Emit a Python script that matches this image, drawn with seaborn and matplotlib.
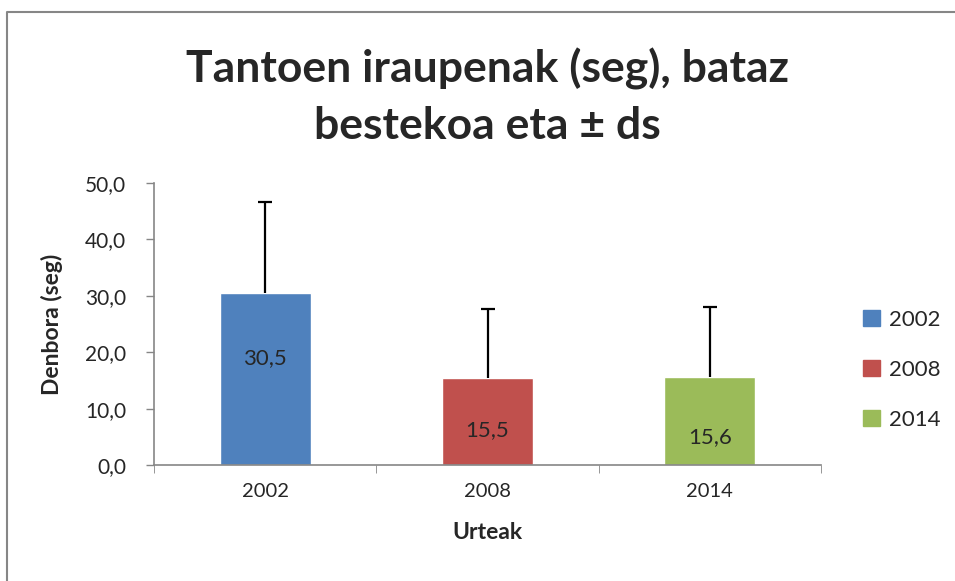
import matplotlib
matplotlib.use("Agg")
import matplotlib.pyplot as plt
import matplotlib.patches as mpatches
import matplotlib.lines as mlines
import numpy as np
import pandas as pd
import seaborn as sns

years = ["2002", "2008", "2014"]
means = [30.5, 15.5, 15.6]
sds = [16.1, 12.2, 12.4]
labels = ["30,5", "15,5", "15,6"]
label_y = [19.0, 6.2, 5.0]
colors = ["#4F81BD", "#C0504D", "#9BBB59"]

df = pd.DataFrame({"Urteak": years, "Denbora": means})

sns.set_style("white")
plt.rcParams["font.family"] = ["Lato", "DejaVu Sans"]

fig = plt.figure(figsize=(9.55, 5.81), dpi=100)
ax = fig.add_axes([154 / 955, 1 - 465 / 581, (821 - 154) / 955, (465 - 183) / 581])

sns.barplot(data=df, x="Urteak", y="Denbora", hue="Urteak", palette=colors,
            width=0.41, ax=ax, legend=False, saturation=1)

# only the upper half of the error bar (Excel "plus" direction)
eb = ax.errorbar(range(len(years)), means, yerr=[[0] * len(years), sds], fmt="none",
                 ecolor="black", elinewidth=1.6, capsize=5, capthick=1.6, zorder=3)
for cap in eb[1]:
    if np.allclose(cap.get_ydata(), means):
        cap.set_visible(False)

for i, (txt, yy) in enumerate(zip(labels, label_y)):
    ax.text(i, yy, txt, ha="center", va="center", fontsize=16)

ticks = [0, 10, 20, 30, 40, 50]
ax.set_ylim(0, 50)
ax.set_xlim(-0.5, 2.5)
ax.set_yticks(ticks)
ax.set_yticklabels([f"{v:.1f}".replace(".", ",") for v in ticks])
ax.tick_params(axis="y", direction="out", length=6, color="#868686", width=1,
               labelsize=15, pad=14, left=True)
ax.tick_params(axis="x", length=0, labelsize=14.5, pad=13)
ax.set_xticks([-0.5, 0.5, 1.5, 2.5], minor=True)
ax.tick_params(axis="x", which="minor", direction="out", length=6, color="#868686",
               bottom=True)

for side in ["top", "right"]:
    ax.spines[side].set_visible(False)
for side in ["left", "bottom"]:
    ax.spines[side].set_color("#868686")
    ax.spines[side].set_linewidth(1.2)

ax.set_xlabel("Urteak", fontsize=16.5, fontweight="bold", labelpad=16)
ax.set_ylabel("Denbora (seg)", fontsize=16.5, fontweight="bold", labelpad=16)

fig.text(487 / 955, 1 - 97 / 581, "Tantoen iraupenak (seg), bataz\nbestekoa eta \u00b1 ds",
         ha="center", va="center", fontsize=32, fontweight="bold", linespacing=1.5)

handles = [mpatches.Patch(color=c, label=y) for c, y in zip(colors, years)]
fig.legend(handles=handles, loc="center left", bbox_to_anchor=(843 / 955, 1 - 370 / 581),
           frameon=False, fontsize=16, handlelength=0.75, handleheight=0.75,
           labelspacing=1.35, handletextpad=0.4)

# chart area border: only left and top edges visible in the crop
fig.add_artist(mlines.Line2D([7 / 955, 7 / 955, 1.0], [0.0, 1 - 12 / 581, 1 - 12 / 581],
                             transform=fig.transFigure, color="#868686", linewidth=1.5))

fig.savefig("out.png", dpi=100)
